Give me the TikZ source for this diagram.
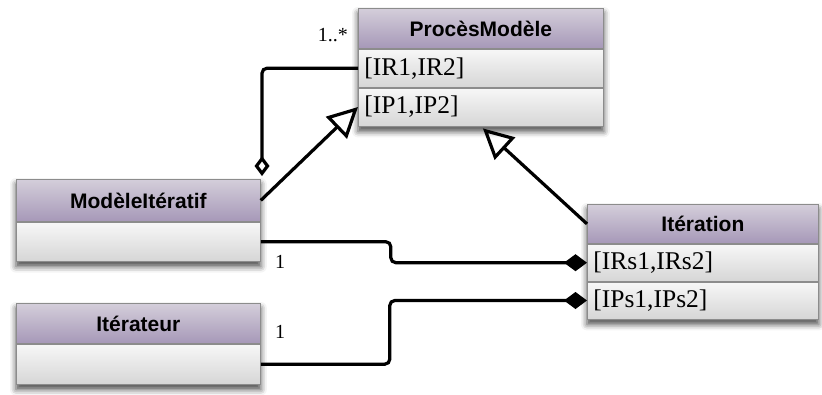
\documentclass[tikz,border=0pt]{standalone}
\usepackage{fontspec}
\setmainfont{Liberation Serif}
\newfontfamily\hfont{Liberation Sans}
\usetikzlibrary{arrows.meta,shadows.blur,backgrounds,fit}
\definecolor{hdtop}{RGB}{212,206,218}
\definecolor{hdbot}{RGB}{166,152,184}
\definecolor{rwtop}{RGB}{247,247,247}
\definecolor{rwbot}{RGB}{214,214,214}
\definecolor{bdr}{RGB}{140,140,140}
\begin{document}
\begin{tikzpicture}[x=1pt,y=-1pt,
 hdr/.style={draw=bdr, line width=0.8pt, top color=hdtop, bottom color=hdbot,
   font=\hfont\bfseries\fontsize{21}{24}\selectfont, anchor=north west,
   inner sep=0pt, minimum height=40pt},
 row/.style={draw=bdr, line width=0.8pt, top color=rwtop, bottom color=rwbot,
   font=\fontsize{25.5}{27}\selectfont, anchor=north west, inner xsep=6pt,
   inner ysep=0pt, minimum height=38pt, align=left},
 shad/.style={fill=white, draw=none, inner sep=0pt,
   blur shadow={shadow xshift=0pt, shadow yshift=-5pt, shadow blur radius=6pt, shadow opacity=70}},
 conn/.style={line width=3.2pt, rounded corners=5pt},
 gen/.style={conn, -{Triangle[open, length=30pt, width=30pt]}},
 agg/.style={conn, {Diamond[open, length=20pt, width=15pt]}-},
 comp/.style={conn, -{Diamond[length=23pt, width=17pt]}},
 mult/.style={font=\fontsize{20}{22}\selectfont, inner sep=0pt}
]
\useasboundingbox (0,0) rectangle (822,394);

% ProcesModele
\node[hdr, minimum width=245pt] (pm) at (358,8) {ProcèsModèle};
\node[row, minimum width=245pt, text width=233pt] (pm1) at (pm.south west) {[IR1,IR2]};
\node[row, minimum width=245pt, text width=233pt] (pm2) at (pm1.south west) {[IP1,IP2]};

% ModeleIteratif
\node[hdr, minimum width=244pt, minimum height=42pt] (mi) at (16,179) {ModèleItératif};
\node[row, minimum width=244pt, text width=232pt, minimum height=39pt] (mi1) at (mi.south west) {};

% Iterateur
\node[hdr, minimum width=244pt] (ia) at (16,303) {Itérateur};
\node[row, minimum width=244pt, text width=232pt, minimum height=40pt] (ia1) at (ia.south west) {};

% Iteration
\node[hdr, minimum width=231pt, minimum height=39pt] (it) at (587,204) {Itération};
\node[row, minimum width=231pt, text width=219pt, minimum height=37pt] (it1) at (it.south west) {[IRs1,IRs2]};
\node[row, minimum width=231pt, text width=219pt, minimum height=37pt] (it2) at (it1.south west) {[IPs1,IPs2]};

\begin{scope}[on background layer]
\node[shad, fit=(pm)(pm2)] (pmS) {};
\node[shad, fit=(mi)(mi1)] (miS) {};
\node[shad, fit=(ia)(ia1)] (iaS) {};
\node[shad, fit=(it)(it2)] (itS) {};
\end{scope}

% connectors
\coordinate (ag) at (262,176);
\draw[agg] (ag) |- (pm1.west);
\draw[gen] (mi.east) -- (pm2.west);
\draw[gen] (it.west) -- ([xshift=2pt,yshift=-2pt]pm2.south);
\draw[comp] (mi1.east) -- ++(130,0) |- (it1.west);
\draw[comp] (ia1.east) -- ++(129,0) |- (it2.west);

% multiplicities
\node[mult, anchor=east] (m1) at (348,35) {1..*};
\node[mult] (m2) at (280,262) {1};
\node[mult] (m3) at (280,332) {1};
\end{tikzpicture}
\end{document}
